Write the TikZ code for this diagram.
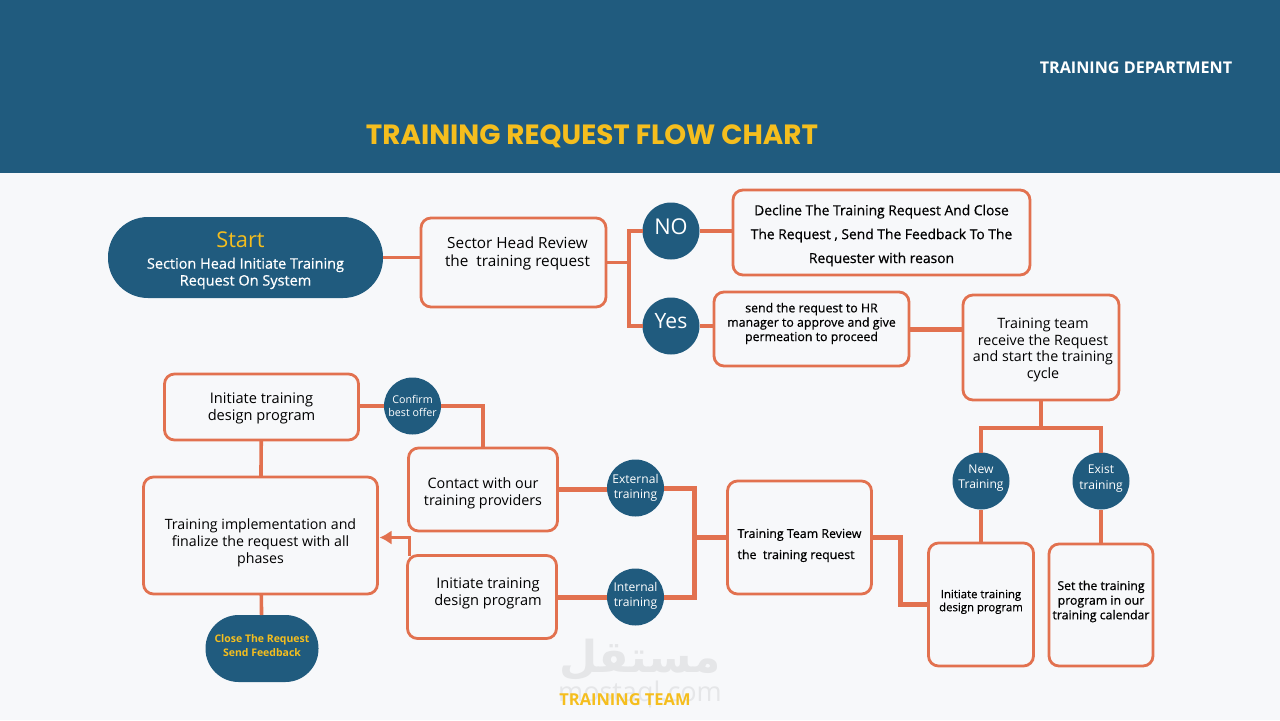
\documentclass[tikz,border=0pt]{standalone}
\usepackage{xcolor}
\usepackage{fontspec}
\usepackage{tikz}
\usetikzlibrary{arrows.meta, positioning}
\setmainfont{Open Sans}
\newfontfamily\titlefont{Poppins}
\newfontfamily\semifont[FakeBold=0.6]{Open Sans}
\newfontfamily\arabicfont[Script=Arabic]{DejaVu Sans}
\TeXXeTstate=1
\definecolor{headblue}{HTML}{205B7E}
\definecolor{pagebg}{HTML}{F7F8FA}
\definecolor{edge}{HTML}{E2714F}
\definecolor{gold}{HTML}{F5BE1E}
\definecolor{wmark}{HTML}{E5E6E8}
\newcommand{\fs}[2]{\fontsize{#1}{#2}\selectfont}
\tikzstyle{process}  = [rectangle, draw=edge, line width=0.07cm, rounded corners=0.25cm, outer sep=0pt, inner sep=0pt, align=center, text=black]
\tikzstyle{pill}     = [rectangle, fill=headblue, outer sep=0pt, inner sep=0pt, align=center, text=white]
\tikzstyle{answer}   = [circle, fill=headblue, outer sep=0pt, inner sep=0pt, minimum size=1.425cm, align=center, text=white]
\tikzstyle{link}     = [draw=edge, line width=0.09cm]
\tikzstyle{heavy}    = [draw=edge, line width=0.125cm]
\tikzstyle{arrow}    = [-{Latex[length=3mm, width=3.6mm]}, draw=edge, line width=0.06cm]

\begin{document}
\begin{tikzpicture}
    \fill [pagebg] (0,0) rectangle (32,-18);
    \fill [headblue] (0,0) rectangle (32,-4.325);
    \useasboundingbox (0,0) rectangle (32,-18);

    \node (dept) [text=white, font=\bfseries\fs{11.5}{14}] at (28.4,-1.7) {TRAINING DEPARTMENT};
    \node (title) [text=gold, font=\titlefont\bfseries\fs{19.8}{22}] at (14.8,-3.4) {TRAINING REQUEST FLOW CHART};

    % top row
    \node (start) [pill, rounded corners=1cm, minimum width=6.875cm, minimum height=2.025cm, text height=1.49cm, font=\semifont\fs{10.3}{12}] at (6.1375,-6.4375)
        {{\color{gold}\normalfont\fs{15.5}{17}Start\hspace*{0.25cm}}\\[3pt]Section Head Initiate Training\\Request On System};
    \node (sector) [process, minimum width=4.625cm, minimum height=2.225cm, right=0.95cm of start, yshift=-0.125cm, text depth=0.55cm, font=\fs{10.9}{12.8}]
        {\hspace*{0.2cm}Sector Head Review\\\hspace*{0.2cm}the~~training request};
    \node (no) [answer, right=0.9125cm of sector, yshift=0.7875cm, font=\fs{15.5}{16}, text depth=0.22cm] {NO};
    \node (yes) [answer, below=0.95cm of no, font=\fs{15}{16}, text depth=0.26cm] {Yes};
    \node (decline) [process, minimum width=7.425cm, minimum height=2.125cm, right=0.8375cm of no, yshift=-0.0375cm, text height=1.61cm, font=\semifont\fs{9.85}{17}]
        {Decline The Training Request  And Close\\The Request , Send The Feedback To The\\Requester with reason};
    \node (send) [process, minimum width=4.875cm, minimum height=1.85cm, right=0.3625cm of yes, yshift=-0.075cm, text depth=0.35cm, font=\semifont\fs{8.8}{10.2}]
        {send the request to HR\\manager to approve and give\\permeation to proceed};
    \node (team) [process, minimum width=3.9cm, minimum height=2.625cm, right=1.35cm of send, yshift=-0.4625cm, text height=1.65cm, font=\fs{10.15}{12}]
        {\hspace*{0.1cm}Training team\\\hspace*{0.1cm}receive the Request\\\hspace*{0.1cm}and start the training\\\hspace*{0.1cm}cycle};

    % right column
    \coordinate [below=0.7cm of team] (split);
    \node (newt) [answer, below=1.3125cm of team, xshift=-1.5cm, font=\fs{8.6}{10.8}, text depth=0.2cm] {New\\Training};
    \node (exist) [answer, below=1.3125cm of team, xshift=1.5cm, font=\fs{8.6}{10.8}, text depth=0.2cm] {Exist\\training};
    \node (initnew) [process, minimum width=2.625cm, minimum height=3.075cm, below=0.8375cm of newt, text depth=0.2cm, font=\semifont\fs{8.1}{9.3}]
        {Initiate training\\design program};
    \node (calendar) [process, minimum width=2.6cm, minimum height=3.05cm, below=0.8625cm of exist, text depth=0.25cm, font=\semifont\fs{8.75}{10.4}]
        {Set the training\\program in our\\training calendar};

    % middle row
    \node (review) [process, minimum width=3.6cm, minimum height=2.825cm, left=1.425cm of initnew, yshift=1.675cm, text height=1.15cm, font=\semifont\fs{8.8}{15}, align=left]
        {Training Team Review\\the~~training request};
    \coordinate [left=0.825cm of review] (bus);
    \coordinate [right=0.725cm of review] (bend);
    \node (external) [answer, left=1.5875cm of review, yshift=1.2375cm, font=\fs{8.6}{10.8}] {External\\training};
    \node (internal) [answer, below=1.3cm of external, font=\fs{8.6}{10.8}, text depth=0.15cm] {Internal\\training};
    \node (contact) [process, minimum width=3.725cm, minimum height=2.075cm, left=1.2375cm of external, yshift=-0.0375cm, text height=0.89cm, font=\fs{10.2}{12.2}]
        {Contact with our\\training providers};
    \node (initint) [process, minimum width=3.725cm, minimum height=2.075cm, left=1.2625cm of internal, text depth=0.25cm, font=\fs{10.4}{12.2}]
        {\hspace*{0.3cm}Initiate training\\\hspace*{0.3cm}design program};

    % left column
    \node (confirm) [answer, above=0.3375cm of contact, xshift=-1.7625cm, font=\fs{7.6}{9.4}] {Confirm\\best offer};
    \node (design) [process, minimum width=4.85cm, minimum height=1.65cm, left=0.6375cm of confirm, yshift=-0.025cm, text height=0.75cm, font=\fs{10.4}{12.2}]
        {Initiate training\\design program};
    \node (impl) [process, minimum width=5.85cm, minimum height=2.925cm, below=0.925cm of design, xshift=-0.025cm, text height=1.475cm, font=\fs{10.1}{12.2}]
        {Training implementation and\\finalize the request with all\\phases};
    \node (close) [pill, rounded corners=0.83cm, minimum width=2.825cm, minimum height=1.675cm, below=0.525cm of impl, xshift=0.0375cm, text depth=0.15cm, text=gold, font=\bfseries\fs{7.45}{9.3}]
        {Close The Request\\Send Feedback};

    % watermark and footer
    \node (markar) [text=wmark, font=\arabicfont\bfseries\fs{31.3}{34}] at (16,-16.5) {\beginR مستقل\endR};
    \node (markla) [text=wmark, font=\fs{19.2}{22}] at (16,-17.35) {mostaql.com};
    \node (footer) [text=gold, font=\bfseries\fs{11.7}{13}] at (15.625,-17.5) {TRAINING TEAM};

    \coordinate [right=0.575cm of sector] (fork);

    \draw [link] (start) -- (start -| sector.west);
    \draw [link] (sector) -- (fork);
    \draw [link] (fork) |- (no);
    \draw [link] (fork) |- (yes);
    \draw [link] (no) -- (no -| decline.west);
    \draw [link] (yes) -- (yes -| send.west);
    \draw [heavy] (send) -- (send -| team.west);
    \draw [link] (team) -- (split);
    \draw [link] (split) -| (newt);
    \draw [link] (split) -| (exist);
    \draw [link] (newt) -- (initnew);
    \draw [link] (exist) -- (calendar);
    \draw [heavy] (review) -- (bend) |- (initnew);
    \draw [heavy] (external) -| (bus);
    \draw [heavy] (internal) -| (bus);
    \draw [heavy] (bus) -- (review);
    \draw [heavy] (contact) -- (contact -| external.west);
    \draw [heavy] (internal -| initint.east) -- (internal);
    \draw [link] (contact) |- (confirm);
    \draw [link] (confirm) -- (confirm -| design.east);
    \draw [link] (design) -- (impl);
    \draw [link] (impl) -- (close);
    \draw [arrow] ([xshift=0.05cm]initint.north west) |- ([xshift=0.05cm, yshift=-0.05cm]impl.east);
\end{tikzpicture}
\end{document}
